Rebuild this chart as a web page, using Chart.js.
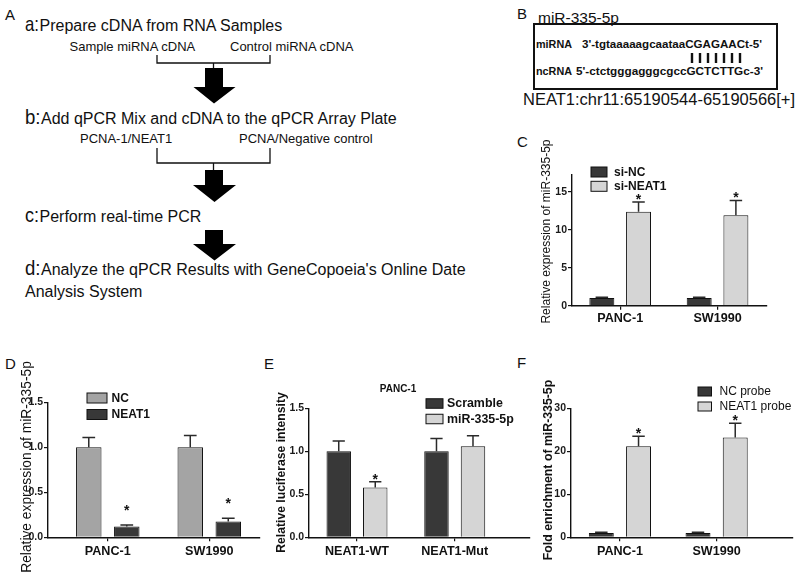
<!DOCTYPE html>
<html>
<head>
<meta charset="utf-8">
<script src="https://cdn.jsdelivr.net/npm/chart.js@4.4.0/dist/chart.umd.min.js"></script>
<style>
  body { margin: 0; background: #fff; }
  #wrap { position: relative; width: 800px; height: 581px; overflow: hidden; }
  #wrap canvas, #wrap svg { position: absolute; left: 0; top: 0; }
</style>
</head>
<body>
<div id="wrap">
<svg width="800" height="581" font-family="'Liberation Sans', Arial, sans-serif">
  <g fill="#111">
    <!-- A: workflow -->
    <text x="5" y="19.5" font-size="15">A</text>
    <text x="25" y="30.5" font-size="21" textLength="14" lengthAdjust="spacingAndGlyphs">a:</text>
    <text x="39.5" y="30.5" font-size="16">Prepare cDNA from RNA Samples</text>
    <text x="69.5" y="50.5" font-size="13">Sample miRNA cDNA</text>
    <text x="230" y="50.5" font-size="13">Control miRNA cDNA</text>
    <text x="25" y="123.5" font-size="21" textLength="15.5" lengthAdjust="spacingAndGlyphs">b:</text>
    <text x="41" y="123.5" font-size="16">Add qPCR Mix and cDNA to the qPCR Array Plate</text>
    <text x="80" y="143" font-size="13">PCNA-1/NEAT1</text>
    <text x="239" y="143" font-size="13">PCNA/Negative control</text>
    <text x="25" y="222" font-size="21" textLength="14" lengthAdjust="spacingAndGlyphs">c:</text>
    <text x="39.5" y="222" font-size="16">Perform real-time PCR</text>
    <text x="25" y="275" font-size="21" textLength="15.5" lengthAdjust="spacingAndGlyphs">d:</text>
    <text x="41" y="275" font-size="16">Analyze the qPCR Results with GeneCopoeia's Online Date</text>
    <text x="25" y="297" font-size="16">Analysis System</text>

    <!-- B: binding site -->
    <text x="517" y="18.5" font-size="15">B</text>
    <text x="538" y="22.5" font-size="15.5">miR-335-5p</text>
    <text x="536" y="48" font-size="10.8" font-weight="bold">miRNA</text>
    <text x="582" y="48" font-size="11.6" font-weight="bold" textLength="180" lengthAdjust="spacingAndGlyphs">3'-tgtaaaaagcaataaCGAGAACt-5'</text>
    <text x="536" y="75" font-size="10.8" font-weight="bold">ncRNA</text>
    <text x="576" y="75" font-size="11.6" font-weight="bold" textLength="187" lengthAdjust="spacingAndGlyphs">5'-ctctgggagggcgccGCTCTTGc-3'</text>
    <text x="523" y="105" font-size="16" textLength="272" lengthAdjust="spacingAndGlyphs">NEAT1:chr11:65190544-65190566[+]</text>

    <!-- panel letters -->
    <text x="517" y="146.5" font-size="15">C</text>
    <text x="5" y="368.5" font-size="15">D</text>
    <text x="264" y="368.5" font-size="15">E</text>
    <text x="517" y="367.5" font-size="15">F</text>
  </g>
  <g stroke="#111" stroke-width="1.3" fill="none">
    <path d="M157 55V63H270V55M213.5 63V69"/>
    <path d="M157 148V163H270V148M213.5 163V171"/>
  </g>
  <g fill="#000">
    <path d="M205 68H223V87H235.5L214 103.5L193.5 87H205Z"/>
    <path d="M205 170H223V185H236L214.5 202L193 185H205Z"/>
    <path d="M205 230H223V244H236L214.5 260.5L193 244H205Z"/>
  </g>
  <rect x="534" y="24" width="243" height="65" fill="none" stroke="#111" stroke-width="2"/>
  <g stroke="#111" stroke-width="2.4">
    <path d="M692 53V63M700 53V63M708 53V63M716 53V63M724 53V63M732 53V63M740 53V63"/>
  </g>
</svg>
<canvas id="chartC" width="800" height="581"></canvas>
<canvas id="chartD" width="800" height="581"></canvas>
<canvas id="chartE" width="800" height="581"></canvas>
<canvas id="chartF" width="800" height="581"></canvas>
</div>
<script>
const FONT = "'Liberation Sans', Arial, sans-serif";
const DARK = "#383838";
const LIGHT = "#d5d5d5";
const MID = "#a4a4a4";

// C: miR-335-5p after NEAT1 knockdown
const cellLines = ["PANC-1", "SW1990"];
const cSiNC = [1.0, 1.0];
const cSiNCErr = [0.12, 0.12];
const cSiNEAT1 = [12.35, 11.9];
const cSiNEAT1Err = [1.3, 1.95];
const cStars = [true, true];
const cTicks = [0, 5, 10, 15];

// D: miR-335-5p after NEAT1 overexpression
const dNC = [1.0, 1.0];
const dNCErr = [0.11, 0.13];
const dNEAT1 = [0.12, 0.175];
const dNEAT1Err = [0.018, 0.036];
const dStars = [true, true];
const dTicks = [0, 0.5, 1.0, 1.5];

// E: luciferase reporter, PANC-1
const reporters = ["NEAT1-WT", "NEAT1-Mut"];
const eScramble = [1.0, 1.0];
const eScrambleErr = [0.12, 0.15];
const eMiR = [0.58, 1.06];
const eMiRErr = [0.065, 0.12];
const eStars = [true, false];
const eTicks = [0, 0.5, 1.0, 1.5];

// F: RNA pull-down
const fNCProbe = [1.0, 1.0];
const fNCProbeErr = [0.15, 0.15];
const fNEAT1Probe = [21.2, 23.2];
const fNEAT1ProbeErr = [2.3, 3.3];
const fStars = [true, true];
const fTicks = [0, 10, 20, 30];

const noStars = [false, false];

// error bars, stars, legend and axis titles
const panelExtras = {
    id: "panelExtras",
    afterDatasetsDraw(chart, args, opts) {
        const { ctx } = chart;
        const y = chart.scales.y;
        ctx.save();

        chart.data.datasets.forEach((ds, di) => {
            const meta = chart.getDatasetMeta(di);
            meta.data.forEach((bar, i) => {
                const top = y.getPixelForValue(ds.data[i].y + ds.errors[i]);
                const half = bar.width * 0.25;
                ctx.strokeStyle = "#2a2a2a";
                ctx.lineWidth = 1.5;
                ctx.beginPath();
                ctx.moveTo(bar.x, bar.y);
                ctx.lineTo(bar.x, top);
                ctx.moveTo(bar.x - half, top);
                ctx.lineTo(bar.x + half, top);
                ctx.stroke();
                if (ds.stars[i]) {
                    ctx.fillStyle = "#111";
                    ctx.font = "bold 14px " + FONT;
                    ctx.textAlign = "center";
                    ctx.textBaseline = "alphabetic";
                    ctx.fillText("*", bar.x, top - opts.starGap + 8);
                }
            });
        });

        const lg = opts.legend;
        chart.data.datasets.forEach((ds, di) => {
            const cy = lg.y + di * lg.dy;
            ctx.fillStyle = ds.backgroundColor;
            ctx.fillRect(lg.x, cy - lg.boxH / 2, lg.boxW, lg.boxH);
            ctx.strokeStyle = "#111";
            ctx.lineWidth = 1;
            ctx.strokeRect(lg.x, cy - lg.boxH / 2, lg.boxW, lg.boxH);
            ctx.fillStyle = "#111";
            ctx.font = lg.font;
            ctx.textAlign = "left";
            ctx.textBaseline = "middle";
            ctx.fillText(ds.label, lg.x + lg.boxW + lg.gap, cy + 0.5);
        });

        if (opts.title) {
            ctx.font = opts.title.font;
            ctx.textAlign = "center";
            ctx.textBaseline = "middle";
            ctx.fillText(opts.title.text, opts.title.x, opts.title.y);
        }

        const t = opts.yTitle;
        ctx.translate(t.x, t.y);
        ctx.rotate(-Math.PI / 2);
        ctx.font = t.font;
        ctx.textAlign = "center";
        ctx.textBaseline = "middle";
        ctx.fillStyle = "#111";
        ctx.fillText(t.text, 0, 0);
        ctx.restore();
    }
};

function makePanel(id, p) {
    const yAxisW = 40, xAxisH = 30;
    return new Chart(document.getElementById(id), {
        type: "bar",
        data: {
            datasets: p.series.map(s => ({
                label: s.label,
                data: s.values.map((v, i) => ({ x: i + 1, y: v })),
                errors: s.errors,
                stars: s.stars,
                backgroundColor: s.color,
                borderColor: "#111",
                borderWidth: 1,
                barPercentage: p.barPct,
                categoryPercentage: p.catPct
            }))
        },
        options: {
            responsive: false,
            animation: false,
            layout: {
                padding: {
                    left: p.area.left - yAxisW,
                    top: p.area.top,
                    right: 800 - p.area.right,
                    bottom: 581 - p.area.bottom - xAxisH
                }
            },
            plugins: {
                legend: { display: false },
                tooltip: { enabled: false },
                panelExtras: p.extras
            },
            scales: {
                x: {
                    type: "linear",
                    min: p.xMin,
                    max: p.xMax,
                    offset: false,
                    afterFit: s => { s.height = xAxisH; },
                    afterBuildTicks: s => { s.ticks = p.categories.map((c, i) => ({ value: i + 1 })); },
                    ticks: {
                        callback: (v, i) => p.categories[i],
                        font: { family: FONT, size: 12.6, weight: "bold" },
                        color: "#111",
                        padding: p.xPad,
                        autoSkip: false,
                        maxRotation: 0
                    },
                    grid: { drawOnChartArea: false, offset: false, tickLength: 4, color: "#111", lineWidth: 1.2 },
                    border: { color: "#111", width: 1.4 }
                },
                y: {
                    min: 0,
                    max: p.yMax,
                    afterFit: s => { s.width = yAxisW; },
                    afterBuildTicks: s => { s.ticks = p.yTicks.map(v => ({ value: v })); },
                    ticks: {
                        callback: v => p.yFmt(v),
                        font: { family: FONT, size: 10.5, weight: "bold" },
                        color: "#1a1a1a",
                        padding: 1
                    },
                    grid: { drawOnChartArea: false, tickLength: 4, color: "#111", lineWidth: 1.2 },
                    border: { color: "#111", width: 1.4 }
                }
            }
        },
        plugins: [panelExtras]
    });
}

const intFmt = v => String(v);
const decFmt = v => v.toFixed(1);

makePanel("chartC", {
    categories: cellLines,
    series: [
        { label: "si-NC", values: cSiNC, errors: cSiNCErr, stars: noStars, color: DARK },
        { label: "si-NEAT1", values: cSiNEAT1, errors: cSiNEAT1Err, stars: cStars, color: LIGHT }
    ],
    area: { left: 572, top: 175, right: 767, bottom: 305.7 },
    xMin: 0.505, xMax: 2.508,
    yMax: 17.2, yTicks: cTicks, yFmt: intFmt,
    barPct: 0.68, catPct: 0.754, xPad: 1,
    extras: {
        starGap: 6,
        legend: { x: 591, y: 172, dy: 14.3, boxW: 16, boxH: 10, gap: 7, font: "bold 12px " + FONT },
        yTitle: { text: "Relative expression of miR-335-5p", x: 547, y: 231.5, font: "12px " + FONT }
    }
});

makePanel("chartD", {
    categories: cellLines,
    series: [
        { label: "NC", values: dNC, errors: dNCErr, stars: noStars, color: MID },
        { label: "NEAT1", values: dNEAT1, errors: dNEAT1Err, stars: dStars, color: DARK }
    ],
    area: { left: 48, top: 402.3, right: 260, bottom: 537.3 },
    xMin: 0.411, xMax: 2.5,
    yMax: 1.5, yTicks: dTicks, yFmt: decFmt,
    barPct: 0.67, catPct: 0.749, xPad: 3,
    extras: {
        starGap: 18,
        legend: { x: 87, y: 398, dy: 16.5, boxW: 20, boxH: 10, gap: 4.5, font: "bold 12px " + FONT },
        yTitle: { text: "Relative expression of miR-335-5p", x: 27, y: 467, font: "13.8px " + FONT }
    }
});

makePanel("chartE", {
    categories: reporters,
    series: [
        { label: "Scramble", values: eScramble, errors: eScrambleErr, stars: noStars, color: DARK },
        { label: "miR-335-5p", values: eMiR, errors: eMiRErr, stars: eStars, color: LIGHT }
    ],
    area: { left: 309, top: 408.3, right: 530, bottom: 537.3 },
    xMin: 0.509, xMax: 2.77,
    yMax: 1.5, yTicks: eTicks, yFmt: decFmt,
    barPct: 0.67, catPct: 0.747, xPad: 3,
    extras: {
        starGap: 6,
        legend: { x: 426, y: 403.5, dy: 15.5, boxW: 17, boxH: 9.5, gap: 4, font: "bold 12.4px " + FONT },
        title: { text: "PANC-1", x: 398, y: 389, font: "bold 10px " + FONT },
        yTitle: { text: "Relative luciferase intensity", x: 282, y: 472.5, font: "bold 12.2px " + FONT }
    }
});

makePanel("chartF", {
    categories: cellLines,
    series: [
        { label: "NC probe", values: fNCProbe, errors: fNCProbeErr, stars: noStars, color: DARK },
        { label: "NEAT1 probe", values: fNEAT1Probe, errors: fNEAT1ProbeErr, stars: fStars, color: LIGHT }
    ],
    area: { left: 571, top: 408.3, right: 793, bottom: 537.3 },
    xMin: 0.494, xMax: 2.79,
    yMax: 30, yTicks: fTicks, yFmt: intFmt,
    barPct: 0.67, catPct: 0.77, xPad: 3,
    extras: {
        starGap: 6,
        legend: { x: 698, y: 391.5, dy: 15, boxW: 13.5, boxH: 9, gap: 8, font: "12px " + FONT },
        yTitle: { text: "Fold enrichment of miR-335-5p", x: 549, y: 470, font: "bold 12.3px " + FONT }
    }
});
</script>
</body>
</html>
